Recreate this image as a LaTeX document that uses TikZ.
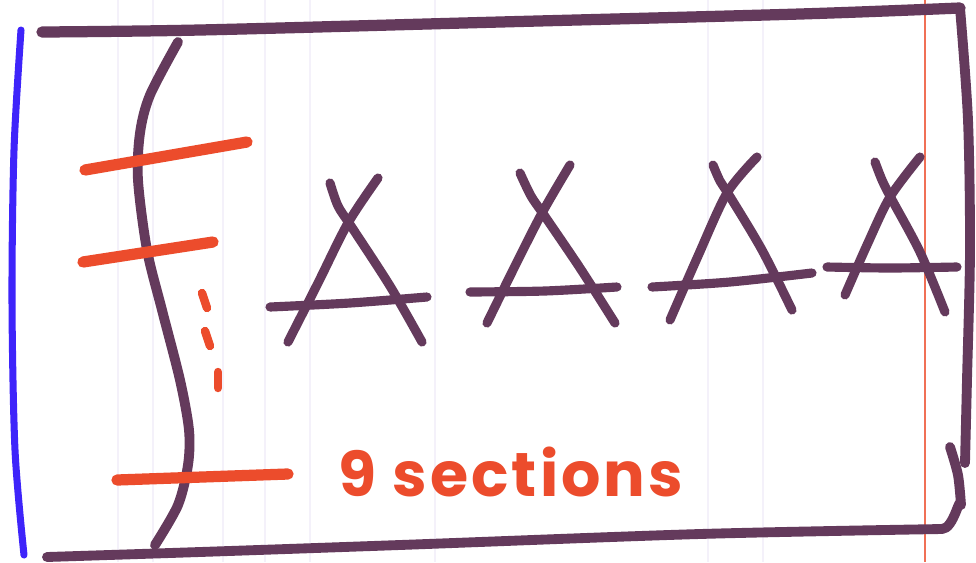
\documentclass[tikz,border=0pt]{standalone}
\usepackage{fontspec}
\newfontfamily\handfont[LetterSpace=5]{Poppins}
\usepackage{tikz}
\usetikzlibrary{backgrounds}

\definecolor{penpurple}{RGB}{100,58,92}
\definecolor{penred}{RGB}{236,76,44}
\definecolor{penblue}{RGB}{62,36,250}
\definecolor{paperline}{RGB}{244,241,250}

\begin{document}
\begin{tikzpicture}[x=0.025cm, y=-0.025cm]
    	\tikzstyle{purplepen}=[draw=penpurple, line width=7pt, line cap=round, line join=round]
    	\tikzstyle{redpen}=[draw=penred, line width=8pt, line cap=round]
    	\tikzstyle{bluepen}=[draw=penblue, line width=5pt, line cap=round]
    	\tikzstyle{tent}=[purplepen, line width=6.5pt]

    	\useasboundingbox (0,0) rectangle (976,562);
    	\fill[white] (0,0) rectangle (976,562);

    	% paper lines
    	\foreach \x in {118,153,223,265,310,435,708,763}
    		\draw[paperline, line width=1pt] (\x,0) -- (\x,562);
    	\draw[penred!80, line width=1.4pt] (925,0) -- (925,562);

    	% margin
    	\draw[bluepen] plot[smooth] coordinates {(21,30) (14,150) (12,300) (15,450) (24,555)};

    	% Frame
    	\draw[purplepen, line width=8pt] plot[smooth] coordinates {(42,32) (200,30) (500,22) (800,14) (960,8)};
    	\draw[purplepen] plot[smooth] coordinates {(960,8) (968,120) (970,250) (967,380) (965,463)};
    	\draw[purplepen] plot[smooth] coordinates {(950,447) (958,475) (961,505)} to[out=95,in=0] (942,529)
    		-- plot[smooth] coordinates {(942,529) (700,534) (400,545) (200,552) (47,557)};

    	% Section bracket
    	\draw[purplepen] plot[smooth] coordinates {(178,42) (150,95) (140,133) (138,180) (147,250) (162,310) (180,380) (189,430) (188,465) (178,505) (155,545)};

    	% Section marks
    	\draw[redpen] (85,170) -- (247,142);
    	\draw[redpen] (83,262) -- (213,242);
    	\draw[redpen] (117,480) -- (288,474);
    	\foreach \a/\b in {202/293, 205/331}
    		\draw[redpen, line width=6pt] (\a,\b) -- ++(5,15);
    	\draw[redpen, line width=6pt] (218,372) -- (218,388);

    	% Tents
    	\draw[tent] plot[smooth] coordinates {(288,342) (318,283) (348,223) (378,178)};
    	\draw[tent] plot[smooth] coordinates {(330,183) (338,206) (351,226) (390,286) (422,342)};
    	\draw[tent] plot[smooth] coordinates {(270,307) (350,303) (427,297)};

    	\draw[tent] plot[smooth] coordinates {(487,323) (514,268) (542,213) (570,165)};
    	\draw[tent] plot[smooth] coordinates {(520,173) (531,196) (544,215) (580,268) (615,323)};
    	\draw[tent] plot[smooth] coordinates {(470,292) (545,291) (617,287)};

    	\draw[tent] plot[smooth] coordinates {(670,320) (698,256) (727,193) (757,157)};
    	\draw[tent] plot[smooth] coordinates {(713,165) (720,181) (729,195) (762,250) (792,310)};
    	\draw[tent] plot[smooth] coordinates {(652,287) (730,282) (812,273)};

    	\draw[tent] plot[smooth] coordinates {(845,295) (867,245) (890,197) (920,157)};
    	\draw[tent] plot[smooth] coordinates {(875,162) (882,180) (891,198) (920,252) (945,312)};
    	\draw[tent] plot[smooth] coordinates {(827,267) (890,268) (957,267)};

    	% Text
    	\node[anchor=base west, inner sep=0pt, text=penred, font=\handfont\bfseries\fontsize{44}{46}\selectfont] (count) at (338,496) {9 sections};

\end{tikzpicture}
\end{document}
